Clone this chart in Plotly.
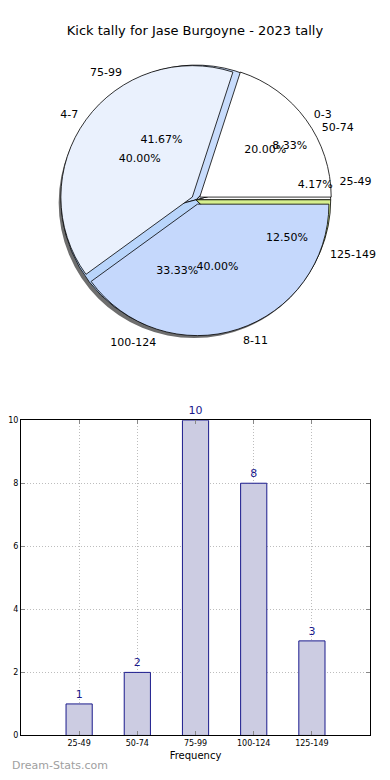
import plotly.graph_objects as go

# ---- data ----
title_text = "Kick tally for Jase Burgoyne - 2023 tally"
outer_labels = ["0-3", "4-7", "8-11"]
outer_values = [1, 2, 2]
outer_colors = ["#ffffff", "#eaf1fd", "#c5d8fc"]

dist_labels = ["25-49", "50-74", "75-99", "100-124", "125-149"]
dist_values = [1, 2, 10, 8, 3]
dist_colors = ["#ffffff", "#eaf1fd", "#c8dcfc", "#b9d5fb", "#d6ef8e"]

bar_fill = "#ccccE2"
bar_edge = "#1a1a8c"
text_navy = "#1a1a8c"
FONT = "DejaVu Sans"

# page body adds an 8px offset; size the figure so the layout lines up
OFF = 8
W, H = 390 - OFF, 780 - OFF


def px(x):
    return (x - OFF) / W


def py(y):
    return 1 - (y - OFF) / H


cx, cy = 195, 198          # pie centre (window px)
R = 133                    # pie radius in px
PULL = 0.035


def dom(half, dx=0, dy=0):
    xc, yc = px(cx + dx), py(cy + dy)
    return dict(x=[xc - half / W, xc + half / W], y=[yc - half / H, yc + half / H])


def start_at_east(values):
    # plotly (counterclockwise) starts at rotation + first slice angle;
    # make the first slice begin at 3 o'clock like matplotlib's default
    return 90 - 360.0 * values[0] / sum(values)


fig = go.Figure()
clear5 = ["rgba(0,0,0,0)"] * 5
clear3 = ["rgba(0,0,0,0)"] * 3
common = dict(sort=False, direction="counterclockwise",
              hoverinfo="skip", showlegend=False)

# shadow
fig.add_trace(go.Pie(labels=["s"], values=[1], marker=dict(colors=["#6e6e6e"], line=dict(width=0)),
                     textinfo="none", domain=dom(R * (1 + PULL) * 0.995, dx=-2, dy=3), **common))
# distribution pie underneath
fig.add_trace(go.Pie(labels=dist_labels, values=dist_values, rotation=start_at_east(dist_values),
                     marker=dict(colors=dist_colors, line=dict(color="black", width=0.8)),
                     textinfo="none", domain=dom(R * (1 + PULL) * 0.99), **common))
# exploded outer pie on top
fig.add_trace(go.Pie(labels=outer_labels, values=outer_values, pull=[PULL] * 3,
                     rotation=start_at_east(outer_values),
                     marker=dict(colors=outer_colors, line=dict(color="black", width=0.8)),
                     textinfo="none", domain=dom(R * (1 + PULL)), **common))
# text layers
for labs, vals, clr in [(dist_labels, dist_values, clear5), (outer_labels, outer_values, clear3)]:
    rot = start_at_east(vals)
    fig.add_trace(go.Pie(labels=labs, values=vals, rotation=rot,
                         marker=dict(colors=clr, line=dict(width=0)),
                         textinfo="percent", texttemplate="%{percent:.2%}", textposition="inside",
                         insidetextorientation="horizontal",
                         textfont=dict(family=FONT, size=11, color="black"),
                         domain=dom(R * (1 + PULL)), **common))
    fig.add_trace(go.Pie(labels=labs, values=vals, rotation=rot,
                         marker=dict(colors=clr, line=dict(width=0)),
                         textinfo="label", textposition="outside",
                         textfont=dict(family=FONT, size=11, color="black"),
                         domain=dom(R * (1 + PULL) * 1.04), **common))

# bar chart
fig.add_trace(go.Bar(x=dist_labels, y=dist_values, width=0.45,
                     marker=dict(color=bar_fill, line=dict(color=bar_edge, width=1)),
                     text=[str(v) for v in dist_values], textposition="outside",
                     textfont=dict(family=FONT, size=11, color=text_navy),
                     cliponaxis=False, hoverinfo="skip", showlegend=False,
                     xaxis="x", yaxis="y"))

fig.update_layout(
    width=W, height=H,
    margin=dict(l=0, r=0, t=0, b=0),
    paper_bgcolor="white", plot_bgcolor="white",
    font=dict(family=FONT, color="black"),
    uniformtext=dict(minsize=11, mode="show"),
    title=dict(text=title_text, x=px(195), xanchor="center", y=py(30), yanchor="middle",
               font=dict(family=FONT, size=13, color="black")),
    xaxis=dict(domain=[px(19), px(370)], anchor="y", type="category",
               range=[-1, 5], showline=True, linecolor="black", linewidth=1, mirror="ticks",
               ticks="inside", ticklen=4, tickcolor="#888",
               showgrid=True, gridcolor="#bdbdbd", griddash="1px,2px", gridwidth=1,
               tickfont=dict(family=FONT, size=8, color="black"),
               title=dict(text="Frequency", font=dict(family=FONT, size=10, color="black"), standoff=4),
               zeroline=False, fixedrange=True),
    yaxis=dict(domain=[py(740), py(421)], anchor="x", range=[0, 10], dtick=2,
               showline=True, linecolor="black", linewidth=1, mirror="ticks",
               ticks="inside", ticklen=4, tickcolor="#888",
               showgrid=True, gridcolor="#bdbdbd", griddash="1px,2px", gridwidth=1,
               tickfont=dict(family=FONT, size=8, color="black"),
               zeroline=False, fixedrange=True),
    annotations=[dict(text="Dream-Stats.com", xref="paper", yref="paper",
                      x=0, y=py(770), xanchor="left", yanchor="middle", showarrow=False,
                      font=dict(family=FONT, size=11, color="#a0a0a0"))],
)

fig.write_html("out.html")
